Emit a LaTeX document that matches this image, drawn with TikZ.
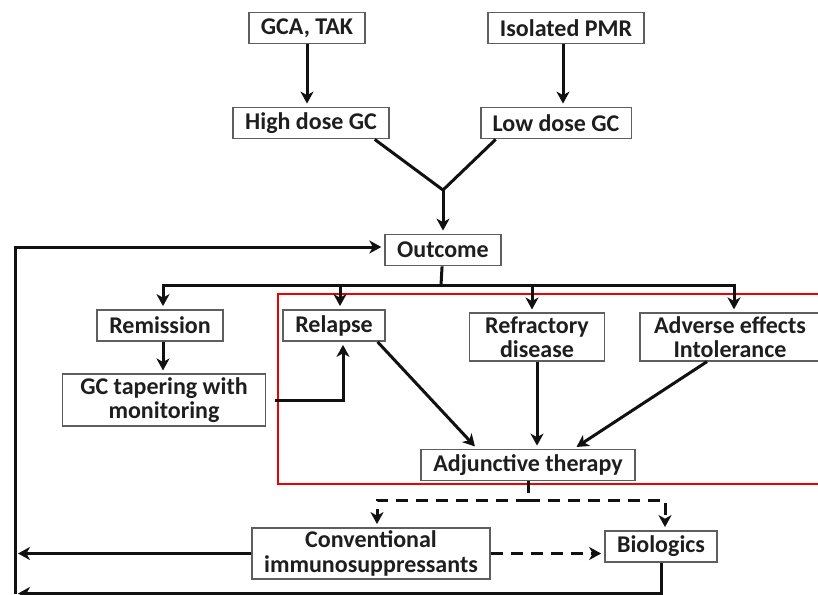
\documentclass[tikz,border=0pt]{standalone}
\usepackage{fontspec}
\setmainfont{Carlito}
\usepackage{xcolor}
\usetikzlibrary{arrows.meta, positioning}
\definecolor{boxborder}{HTML}{5E5E5E}
\definecolor{boxtext}{HTML}{1E1E1E}
\definecolor{flowblack}{HTML}{111111}
\definecolor{highlightred}{HTML}{EE0000}

\begin{document}
\begin{tikzpicture}[
  x=0.5pt, y=-0.5pt,
  box/.style={rectangle, draw=boxborder, line width=0.9pt, fill=white,
               inner xsep=6pt, inner ysep=1.5pt, minimum height=15.5pt, align=center,
               font=\fontsize{12}{12.2}\selectfont\bfseries\color{boxtext}},
  link/.style={line width=1.5pt, color=flowblack},
  arrow/.style={link, -{Stealth[length=6pt, width=6.5pt, inset=1.8pt]}, shorten >=1.5pt},
  dashlink/.style={link, dash pattern=on 6pt off 4pt},
  dasharrow/.style={arrow, dash pattern=on 6pt off 4pt},
  redframe/.style={draw=highlightred, line width=1pt}
]
  \useasboundingbox (0,0) rectangle (818,594);
  \draw[redframe] (278,293.5) rectangle (840,483.5);

  \node[box] (gca)  at (307,28)  {GCA, TAK};
  \node[box] (pmr)  at (566,28)  {Isolated PMR};
  \node[box] (high) at (311,123) {High dose GC};
  \node[box] (low)  at (556,123) {Low dose GC};
  \node[box] (outcome) at (443,250) {Outcome};

  \node[box] (remission)  at (160,325.5) {Remission};
  \node[box] (relapse)    at (334,325.5) {Relapse};
  \node[box, minimum width=67.5pt] (refractory) at (537,337) {Refractory\\disease};
  \node[box, minimum width=90pt] (adverse) at (730,337) {Adverse effects\\Intolerance};
  \node[box, minimum width=101.5pt] (taper) at (164,400) {GC tapering with\\monitoring};
  \node[box] (adjunct) at (528,465) {Adjunctive therapy};
  \node[box] (conv) at (371,553.5) {Conventional\\immunosuppressants};
  \node[box] (bio)  at (661,546.5) {Biologics};

  \coordinate (join) at (443,190);
  \coordinate (bus)  at (441,285);
  \coordinate (fork) at (528,500);
  \coordinate (loop) at (15,593.5);

  \draw[arrow] (gca) -- (gca |- high.north);
  \draw[arrow] ([xshift=-1.5pt]pmr.south) -- ([xshift=-1.5pt]pmr.south |- low.north);
  \draw[link] ([xshift=-7.5pt]high.south east) -- (join) -- ([xshift=8pt]low.south west);
  \draw[arrow] (join) -- (outcome);

  \draw[link] (outcome) -- (bus);
  \draw[arrow] (bus) -| ([xshift=1.5pt]remission.north);
  \draw[arrow] (bus) -| ([xshift=3pt]relapse.north);
  \draw[arrow] (bus) -| ([xshift=-2.5pt]refractory.north);
  \draw[arrow] (bus) -| ([xshift=2pt]adverse.north);

  \draw[arrow] ([xshift=1.5pt]remission.south) -- ([xshift=1.5pt]remission.south |- taper.north);
  \draw[arrow] ([xshift=4.5pt]taper.east) -| ([xshift=4.5pt]relapse.south);

  \draw[arrow] ([xshift=-4pt]relapse.south east) -- ([xshift=-25.5pt]adjunct.north);
  \draw[arrow] (refractory) -- (refractory |- adjunct.north);
  \draw[arrow] ([xshift=-11.5pt]adverse.south) -- ([xshift=23pt]adjunct.north);

  \draw[dashlink] (adjunct) -- (fork);
  \draw[dasharrow] (fork) -| ([xshift=3pt]conv.north);
  \draw[dasharrow] (fork) -| ([xshift=2pt]bio.north);
  \draw[dasharrow] (conv.east) -- (conv.east -| bio.west);

  \draw[arrow] (conv.west) -- (conv.west -| loop);
  \draw[arrow] (bio) |- (loop);
  \draw[arrow] (loop) |- ([yshift=1.5pt]outcome.west);
\end{tikzpicture}
\end{document}
